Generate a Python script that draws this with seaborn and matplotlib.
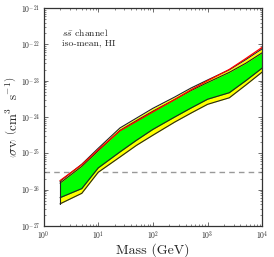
import numpy as np
import pandas as pd
import matplotlib
matplotlib.use("Agg")
import matplotlib.pyplot as plt
import seaborn as sns

# Data (log10 of <sigma v> in cm^3 s^-1)
mass = [2, 5, 10, 25, 50, 100, 250, 500, 1000, 2500, 5000, 10000]
band95_hi = [-25.77, -25.30, -24.86, -24.30, -24.03, -23.76, -23.45, -23.20, -22.98, -22.70, -22.42, -22.12]
band68_hi = [-25.82, -25.36, -24.93, -24.37, -24.10, -23.84, -23.52, -23.27, -23.05, -22.77, -22.52, -22.23]
band68_lo = [-26.22, -25.97, -25.40, -24.96, -24.64, -24.34, -24.00, -23.75, -23.51, -23.33, -23.00, -22.65]
band95_lo = [-26.39, -26.10, -25.52, -25.10, -24.78, -24.50, -24.14, -23.89, -23.65, -23.47, -23.12, -22.76]
observed = [-25.75, -25.31, -24.90, -24.38, -24.12, -23.86, -23.52, -23.25, -23.00, -22.69, -22.39, -22.08]
thermal = 3e-26
label_lines = [r"$s\bar{s}$ channel", "iso-mean, HI"]
xticks = [1, 10, 100, 1000, 10000]
yticks = [1e-27, 1e-26, 1e-25, 1e-24, 1e-23, 1e-22, 1e-21]

sns.set_style("ticks")
plt.rcParams["font.family"] = ["cmr10", "DejaVu Serif"]
plt.rcParams["mathtext.fontset"] = "cm"
plt.rcParams["axes.unicode_minus"] = False
plt.rcParams["axes.formatter.use_mathtext"] = True

df = pd.DataFrame({
    "mass": mass,
    "y95h": 10 ** np.array(band95_hi),
    "y68h": 10 ** np.array(band68_hi),
    "y68l": 10 ** np.array(band68_lo),
    "y95l": 10 ** np.array(band95_lo),
    "obs": 10 ** np.array(observed),
})

fig = plt.figure(figsize=(2.74, 2.57), dpi=100)
ax = fig.add_axes([0.159, 0.1206, 0.798, 0.848])

ax.fill_between(df["mass"], df["y95l"], df["y95h"], color="#ffff00", lw=0, zorder=1)
ax.fill_between(df["mass"], df["y68l"], df["y68h"], color="#00ff00", lw=0, zorder=2)
for col in ["y95h", "y68h", "y68l", "y95l"]:
    sns.lineplot(data=df, x="mass", y=col, ax=ax, color="#222222", lw=0.8, zorder=3)
sns.lineplot(data=df, x="mass", y="obs", ax=ax, color="#ff0000", lw=0.9, zorder=4)
ax.plot([mass[0], mass[0]], [df["y95l"][0], df["y95h"][0]], color="#222222", lw=0.8, zorder=3)
ax.axhline(thermal, color="#999999", ls=(0, (4, 3)), lw=1.0, zorder=0)

ax.set_xscale("log")
ax.set_yscale("log")
ax.set_xticks(xticks)
ax.set_yticks(yticks)
ax.set_xlim(1, 1e4)
ax.set_ylim(1e-27, 1e-21)

ax.tick_params(which="both", direction="in", top=True, right=True, labelsize=5.5,
               color="#555555", pad=2.5)
ax.tick_params(which="major", length=3, width=0.6)
ax.tick_params(which="minor", length=1.5, width=0.5)
for s in ax.spines.values():
    s.set_color("#333333")
    s.set_linewidth(0.9)

ax.set_xlabel("Mass (GeV)", fontsize=10, labelpad=0.5)
ax.set_ylabel(r"$\left\langle\sigma\mathrm{v}\right\rangle\ \left(\mathrm{cm}^3\ \ \mathrm{s}^{-1}\right)$",
              fontsize=9.5, labelpad=0.5)

ax.text(0.085, 0.915, label_lines[0] + "\n" + label_lines[1], transform=ax.transAxes,
        fontsize=7, va="top", ha="left", linespacing=1.15)

fig.savefig("out.png", dpi=100)
